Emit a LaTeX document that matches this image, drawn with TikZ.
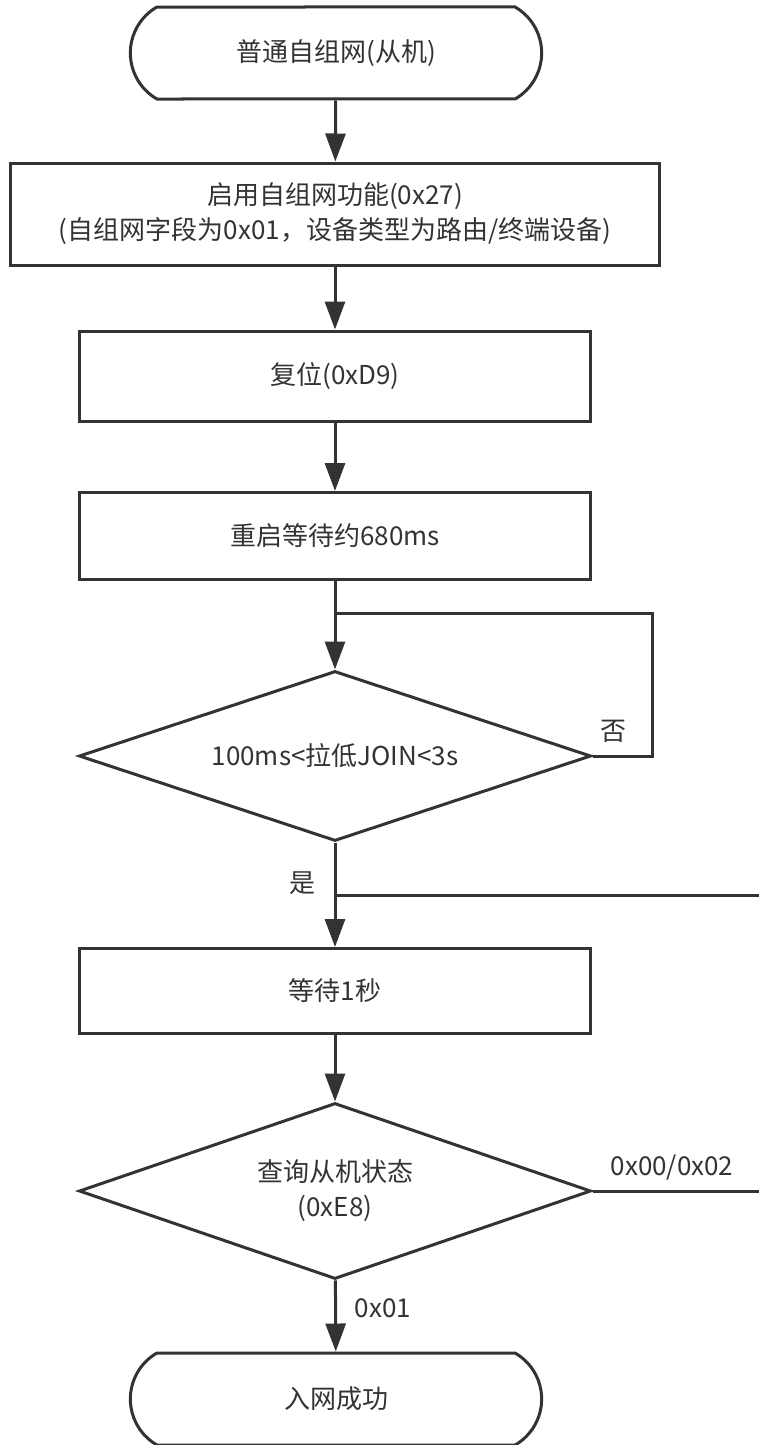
\documentclass[tikz,border=0pt]{standalone}
\usepackage{fontspec}
\newfontfamily\cjkfont{Noto Sans CJK SC}
\usetikzlibrary{positioning,arrows.meta,shapes.geometric,shapes.misc}
\definecolor{flowline}{HTML}{333333}
\definecolor{flowink}{HTML}{333333}

\begin{document}
\begin{tikzpicture}[
  x=1pt,y=-1pt,
  font=\cjkfont\fontsize{26}{35}\selectfont,
  >={Triangle[width=20pt,length=28pt]},
  term/.style={rounded rectangle,rounded rectangle arc length=120,draw=flowline,
               line width=3pt,minimum width=418pt,minimum height=92pt,text=flowink},
  proc/.style={rectangle,draw=flowline,line width=3pt,minimum width=511pt,
               minimum height=88pt,align=center,text=flowink},
  dec/.style={diamond,draw=flowline,line width=3pt,aspect=3,inner sep=0pt,
              minimum width=512pt,minimum height=170pt,align=center,text=flowink},
  lbl/.style={text=flowink,inner sep=2pt},
  arr/.style={->,line width=3pt,draw=flowline},
  wire/.style={line width=3pt,draw=flowline}
]
\useasboundingbox (0,0) rectangle (758,1445);

% ---- start / end ----
\node[term] (start) at (336,53) {普通自组网(从机)};
\node[term] (done) at (336,1399) {入网成功};

% ---- steps ----
\node[proc,minimum width=649pt,minimum height=102pt] (enable) at (335,214)
  {启用自组网功能(0x27)\\(自组网字段为0x01，设备类型为路由/终端设备)};
\node[proc,minimum height=90pt] (reset) at (335,376) {复位(0xD9)};
\node[proc,minimum height=87pt] (reboot) at (335,536) {重启等待约680ms};
\node[dec] (join) at (335,756) {100ms<拉低JOIN<3s};
\node[proc,minimum height=85pt] (pause) at (335,991) {等待1秒};
\node[dec,minimum height=176pt] (query) at (335,1191) {查询从机状态\\(0xE8)};

% merge points of the two back lines
\coordinate (loopin) at (335,613);
\coordinate (backin) at (335,895);

% ---- arrows ----
\draw[arr] (start) -- (enable);
\draw[arr] (enable) -- (reset);
\draw[arr] (reset) -- (reboot);
\draw[arr] (reboot) -- (join);
\draw[arr] (join) -- (pause);
\draw[arr] (pause) -- (query);
\draw[arr] (query) -- (done);
\draw[wire] (join.east) -- ++(60,0) |- (loopin);
\draw[wire] (query.east) -- ++(175,0) |- (backin);

% ---- branch labels ----
\node[lbl] (no) at (613,731) {否};
\node[lbl] (yes) at (302,883) {是};
\node[lbl] (retry) at (672,1167) {0x00/0x02};
\node[lbl] (ok) at (383,1308) {0x01};

\end{tikzpicture}
\end{document}
